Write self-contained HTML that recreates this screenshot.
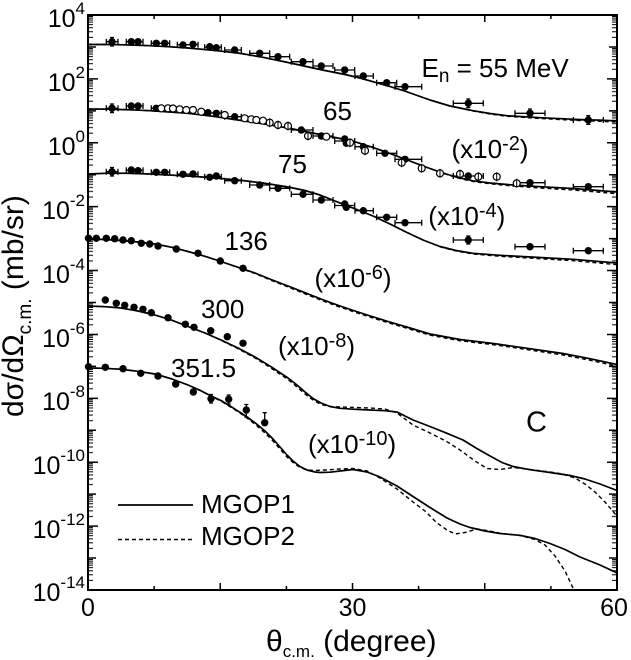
<!DOCTYPE html>
<html><head><meta charset="utf-8"><style>
html,body{margin:0;padding:0;background:#fff;}
svg{display:block;}
text{font-family:"Liberation Sans",Arial,sans-serif;fill:#000;}
</style></head><body>
<svg width="631" height="660" viewBox="0 0 631 660" xmlns="http://www.w3.org/2000/svg">
<defs>
<pattern id="mt" patternUnits="userSpaceOnUse" x="0" y="15" width="631" height="31.944">
<path d="M88 1.46h5M88 3.1h5M88 4.94h5M88 7.08h5M88 9.62h5M88 12.71h5M88 16.71h5M88 22.33h5M612 1.46h5M612 3.1h5M612 4.94h5M612 7.08h5M612 9.62h5M612 12.71h5M612 16.71h5M612 22.33h5" stroke="#000" stroke-width="1"/>
</pattern>
<clipPath id="cp"><rect x="88" y="15" width="529" height="575"/></clipPath>
</defs>
<rect x="0" y="0" width="631" height="660" fill="#fff"/>
<!-- minor ticks -->
<rect x="0" y="15" width="631" height="575" fill="url(#mt)"/>
<!-- decade ticks -->
<path stroke="#000" stroke-width="1.5" fill="none" d="
M88 15h10M88 46.94h8M88 78.89h10M88 110.83h8M88 142.78h10M88 174.72h8M88 206.67h10M88 238.61h8M88 270.56h10M88 302.5h8M88 334.44h10M88 366.39h8M88 398.33h10M88 430.28h8M88 462.22h10M88 494.17h8M88 526.11h10M88 558.06h8
M617 15h-10M617 46.94h-8M617 78.89h-10M617 110.83h-8M617 142.78h-10M617 174.72h-8M617 206.67h-10M617 238.61h-8M617 270.56h-10M617 302.5h-8M617 334.44h-10M617 366.39h-8M617 398.33h-10M617 430.28h-8M617 462.22h-10M617 494.17h-8M617 526.11h-10M617 558.06h-8
M154.1 590v-4M220.25 590v-7M286.4 590v-4M352.5 590v-7M418.6 590v-4M484.75 590v-7M550.9 590v-4
M154.1 15v4M220.25 15v7M286.4 15v4M352.5 15v7M418.6 15v4M484.75 15v7M550.9 15v4"/>
<rect x="88" y="15" width="529" height="575" fill="none" stroke="#000" stroke-width="2"/>

<!-- y tick labels -->
<g font-size="25" text-anchor="end">
<text x="85" y="27">10<tspan font-size="17" dy="-13">4</tspan></text>
<text x="85" y="91">10<tspan font-size="17" dy="-13">2</tspan></text>
<text x="85" y="155">10<tspan font-size="17" dy="-13">0</tspan></text>
<text x="85" y="219">10<tspan font-size="17" dy="-13">-2</tspan></text>
<text x="85" y="283">10<tspan font-size="17" dy="-13">-4</tspan></text>
<text x="85" y="347">10<tspan font-size="17" dy="-13">-6</tspan></text>
<text x="85" y="410">10<tspan font-size="17" dy="-13">-8</tspan></text>
<text x="85" y="474">10<tspan font-size="17" dy="-13">-10</tspan></text>
<text x="85" y="538">10<tspan font-size="17" dy="-13">-12</tspan></text>
<text x="85" y="601">10<tspan font-size="17" dy="-13">-14</tspan></text>
</g>
<!-- x tick labels -->
<g font-size="25" text-anchor="middle">
<text x="88" y="616">0</text>
<text x="352.5" y="616">30</text>
<text x="614" y="616">60</text>
</g>
<!-- axis titles -->
<text x="266" y="651" font-size="30">θ<tspan font-size="17" dy="6">c.m.</tspan><tspan dy="-6"> (degree)</tspan></text>
<text transform="translate(23,417) rotate(-90)" font-size="30">dσ/dΩ<tspan font-size="19" dy="8">c.m.</tspan><tspan dy="-8"> (mb/sr)</tspan></text>

<!-- curves -->
<g clip-path="url(#cp)" fill="none" stroke="#000" stroke-linejoin="round">
<g stroke-width="1.4" stroke-dasharray="4 3">
<polyline points="88,44.5 110,44.5 130,45 150,45.7 170,46.8 188,48 213,50.3 238,53 263,57.3 288,62.5 320,69.5 345,74.5 358,77.5 373,81.7 390,86.5 406,91.5 430,100 450,106 473,111 490,114 507,116.3 540,118.5 575,120.3 617,122"/>
<polyline points="88,109 110,109.2 130,109.8 150,110.7 188,113.3 213,116.3 238,120 263,123.8 288,128 320,134.5 345,139.5 358,142.7 373,147.5 390,153.5 406,159.5 423,166 440,172.3 456,177.5 473,181.5 490,183.8 513,186 540,188 573,190 617,193.7"/>
<polyline points="88,174 105,173.3 125,173.2 150,174 188,176 213,177.8 238,180 263,183 288,187 305,190.5 320,195 340,203 358,210 373,216 390,224 406,232 423,240 440,246.8 456,251 473,254 500,256.3 540,258.7 573,260.7 617,264.7"/>
<polyline points="88,239 105,239.5 121,240.5 138,242 155,244 172,247.3 188,251.5 205,256.3 221,261.5 238,267.5 255,273.5 271,280.2 288,287 305,293.8 321,300.2 338,306.5 355,312.2 372,317.7 388,322.7 410,329.2 430,335.2 460,340.7 497,345.2 530,350 563,355 590,360.2 617,366.3"/>
<polyline points="88,306 105,306.7 121,308 138,311 155,315 172,320.3 188,326.5 205,333 221,340.3 238,348.7 255,358 271,368 288,379.5 297,387 305,394 313,400 321,404.5 330,406.5 340,407 355,407.5 370,408 385,409 397,413 413,425 430,433 447,441.7 460,450 475,461 487,468.5 500,469.5 513,467.5 530,469.5 550,472 563,474 575,478 585,484 595,492 605,502 617,516"/>
<polyline points="88,368 105,368.3 121,369.3 138,371.3 155,374 172,379 188,385 200,390.5 211,396.3 221,401 230,406.7 240,413 247,418 256,425 265,433 273,441 280,449 287,457 293,462.5 300,467.5 307,470 315,470.5 325,470 340,469 353,468.5 367,471 380,478 397,489 413,502 425,511 437,523 447,530 455,534 465,532.5 477,529 490,531 500,533.3 520,535.5 535,539.5 545,545 555,556 565,571 573,588 577,598"/>
</g>
<g stroke-width="1.7">
<polyline points="88,44.5 110,44.5 130,45 150,45.7 170,46.8 188,48 213,50.3 238,53 263,57.3 288,62.5 320,69.5 345,74.5 358,77.5 373,81.7 390,86.5 406,91.5 430,100 450,106 473,110.7 490,113.5 507,115.7 540,117.7 575,119.3 617,120.8"/>
<polyline points="88,109 110,109.2 130,109.8 150,110.7 188,113.3 213,116.3 238,120 263,123.8 288,128 320,134.5 345,139.5 358,142.7 373,147.5 390,153.5 406,159.5 423,166 440,172 456,177 473,180.8 490,183 513,185 540,186.7 573,188.5 617,192"/>
<polyline points="88,174 105,173.3 125,173.2 150,174 188,176 213,177.8 238,180 263,183 288,187 305,190.5 320,195 340,203 358,210 373,216 390,224 406,232 423,240 440,246.5 456,250.5 473,253.3 500,255.3 540,257.5 573,259.3 617,263"/>
<polyline points="88,239 105,239.5 121,240.5 138,242 155,244 172,247.3 188,251.5 205,256.3 221,261.5 238,267.3 255,273 271,279.5 288,286 305,292.7 321,299 338,305.3 355,311 372,316.5 388,321.5 410,328 430,334 460,339.5 497,344 530,348.7 563,353.5 590,358.7 617,364.5"/>
<polyline points="88,306 105,306.7 121,308 138,311 155,315 172,320.3 188,326.5 205,333 221,340 238,348 255,357 271,366.7 288,378 297,385 305,392 313,398.5 321,403 330,406.5 340,408.3 355,409.3 370,410 385,410.7 397,412 413,420 430,426.5 447,433.3 463,440 476,448 490,456 502,462.5 513,466.5 530,469.7 550,472.5 570,475.5 585,479 600,484 617,490.5"/>
<polyline points="88,368 105,368.3 121,369.3 138,371.3 155,374 172,379 188,385 200,390.3 211,396 221,400.5 230,406 240,412.3 247,417 256,423.5 265,431 273,439 280,447 287,455 293,461 300,466.5 307,470 315,472 320,472.5 330,472.2 340,471 353,469.5 367,472 380,477 397,486 413,496.5 430,507.5 447,518 460,524 470,527.5 485,531 500,533.5 520,535.3 535,538.5 550,543.5 565,549.5 580,557 600,565 617,573"/>
</g>
</g>

<!-- error bars -->
<path fill="none" stroke="#000" stroke-width="1.3" d="
M106.3 41.7H118M106.3 38.7v6M118 38.7v6
M126.3 41.7H143M126.3 38.7v6M143 38.7v6
M151.3 43.3H169.7M151.3 40.3v6M169.7 40.3v6
M177.3 44.7H198M177.3 41.7v6M198 41.7v6
M204.7 47.2H221.3M204.7 44.2v6M221.3 44.2v6
M224.7 50H241.3M224.7 47v6M241.3 47v6
M249.7 53.3H269.7M249.7 50.3v6M269.7 50.3v6
M269.7 56.7H289.7M269.7 53.7v6M289.7 53.7v6
M291.3 61.7H313M291.3 58.7v6M313 58.7v6
M313 66H333M313 63v6M333 63v6
M334.7 70H354.7M334.7 67v6M354.7 67v6
M355 76H373.3M355 73v6M373.3 73v6
M376.7 82.7H396.7M376.7 79.7v6M396.7 79.7v6
M395 86.7H421.7M395 83.7v6M421.7 83.7v6
M453.3 103.3H483.3M453.3 100.3v6M483.3 100.3v6
M515 113.3H545M515 110.3v6M545 110.3v6
M573.3 120H603.3M573.3 117v6M603.3 117v6
M112 37.5V46M110 37.5h4M110 46h4
M468.3 99V107.6M466.3 99h4M466.3 107.6h4
M530 109V117.6M528 109h4M528 117.6h4
M588.3 115.7V124.3M586.3 115.7h4M586.3 124.3h4

M106.3 108.3H118M106.3 105.3v6M118 105.3v6
M126.3 106H143M126.3 103v6M143 103v6
M151.3 108.3H169.7M151.3 105.3v6M169.7 105.3v6
M204.7 113H221.3M204.7 110v6M221.3 110v6
M224.7 116.7H241.3M224.7 113.7v6M241.3 113.7v6
M291.3 130H313M291.3 127v6M313 127v6
M313 136H333M313 133v6M333 133v6
M334.7 141H354.7M334.7 138v6M354.7 138v6
M355 146.7H373.3M355 143.7v6M373.3 143.7v6
M376.7 153.3H396.7M376.7 150.3v6M396.7 150.3v6
M395 159.3H421.7M395 156.3v6M421.7 156.3v6
M453.3 176H483.3M453.3 173v6M483.3 173v6
M515 182.7H545M515 179.7v6M545 179.7v6
M573.3 186.7H603.3M573.3 183.7v6M603.3 183.7v6
M112 104V112.6M110 104h4M110 112.6h4

M106.3 171.7H118M106.3 168.7v6M118 168.7v6
M126.3 170.3H143M126.3 167.3v6M143 167.3v6
M151.3 172.3H169.7M151.3 169.3v6M169.7 169.3v6
M177.3 174.2H198M177.3 171.2v6M198 171.2v6
M204.7 176.7H221.3M204.7 173.7v6M221.3 173.7v6
M224.7 180.7H241.3M224.7 177.7v6M241.3 177.7v6
M249.7 185H269.7M249.7 182v6M269.7 182v6
M269.7 188.3H289.7M269.7 185.3v6M289.7 185.3v6
M291.3 194.3H313M291.3 191.3v6M313 191.3v6
M313 200H333M313 197v6M333 197v6
M334.7 205.5H354.7M334.7 202.5v6M354.7 202.5v6
M355 210.7H373.3M355 207.7v6M373.3 207.7v6
M376.7 217.3H396.7M376.7 214.3v6M396.7 214.3v6
M395 222.7H421.7M395 219.7v6M421.7 219.7v6
M453.3 240H483.3M453.3 237v6M483.3 237v6
M515 246.7H545M515 243.7v6M545 243.7v6
M573.3 250.7H603.3M573.3 247.7v6M603.3 247.7v6
M112 167.5V176M110 167.5h4M110 176h4
M468.3 236V244M466.3 236h4M466.3 244h4

M211 394.5V403M209 394.5h4M209 403h4
M228.7 395V404M226.7 395h4M226.7 404h4
M246.3 404.5V417M244.3 404.5h4M244.3 417h4
M264.7 412.7V424M262.7 412.7h4
"/>

<!-- filled markers -->
<g fill="#000">
<circle cx="112" cy="41.7" r="3.7"/><circle cx="131.3" cy="41.7" r="3.7"/><circle cx="138" cy="41.7" r="3.7"/><circle cx="156.3" cy="43.3" r="3.7"/><circle cx="164.7" cy="43.3" r="3.7"/><circle cx="183" cy="45" r="3.7"/><circle cx="193" cy="44.3" r="3.7"/><circle cx="209.7" cy="46.7" r="3.7"/><circle cx="216.3" cy="47.7" r="3.7"/><circle cx="234.7" cy="50" r="3.7"/><circle cx="259.7" cy="53.3" r="3.7"/><circle cx="278" cy="56.7" r="3.7"/><circle cx="303" cy="61.7" r="3.7"/><circle cx="321.3" cy="66" r="3.7"/><circle cx="344.7" cy="70" r="3.7"/><circle cx="363.3" cy="76" r="3.7"/><circle cx="386.7" cy="82.7" r="3.7"/><circle cx="405" cy="86.7" r="3.7"/><circle cx="468.3" cy="103.3" r="3.7"/><circle cx="530" cy="113.3" r="3.7"/><circle cx="588.3" cy="120" r="3.7"/>

<circle cx="112" cy="108.3" r="3.7"/><circle cx="131.3" cy="106" r="3.7"/><circle cx="138" cy="106" r="3.7"/><circle cx="156.3" cy="108.3" r="3.7"/><circle cx="208" cy="112.7" r="3.7"/><circle cx="216.3" cy="113.3" r="3.7"/><circle cx="234.7" cy="116.7" r="3.7"/><circle cx="301.3" cy="130" r="3.7"/><circle cx="321.3" cy="136" r="3.7"/><circle cx="344.7" cy="139" r="3.7"/><circle cx="346.3" cy="143.3" r="3.7"/><circle cx="363.3" cy="146.7" r="3.7"/><circle cx="385" cy="153.3" r="3.7"/><circle cx="405" cy="159.3" r="3.7"/><circle cx="468.3" cy="176" r="3.7"/><circle cx="530" cy="182.7" r="3.7"/><circle cx="588.3" cy="186.7" r="3.7"/>

<circle cx="112" cy="171.7" r="3.7"/><circle cx="131.3" cy="170" r="3.7"/><circle cx="138" cy="170.7" r="3.7"/><circle cx="156.3" cy="172.3" r="3.7"/><circle cx="164.7" cy="172.3" r="3.7"/><circle cx="183" cy="174.3" r="3.7"/><circle cx="193" cy="174" r="3.7"/><circle cx="209.7" cy="177.3" r="3.7"/><circle cx="216.3" cy="176" r="3.7"/><circle cx="234.7" cy="180.7" r="3.7"/><circle cx="259.7" cy="185" r="3.7"/><circle cx="278" cy="188.3" r="3.7"/><circle cx="303" cy="194.3" r="3.7"/><circle cx="321.3" cy="200" r="3.7"/><circle cx="344.7" cy="204" r="3.7"/><circle cx="346.3" cy="207.3" r="3.7"/><circle cx="363.3" cy="210.7" r="3.7"/><circle cx="386.7" cy="217.3" r="3.7"/><circle cx="405" cy="222.7" r="3.7"/><circle cx="468.3" cy="240" r="3.7"/><circle cx="530" cy="246.7" r="3.7"/><circle cx="588.3" cy="250.7" r="3.7"/>

<circle cx="88.5" cy="238.3" r="3.7"/><circle cx="96.3" cy="238.3" r="3.7"/><circle cx="106.3" cy="238.3" r="3.7"/><circle cx="114.7" cy="238.7" r="3.7"/><circle cx="123" cy="240" r="3.7"/><circle cx="131.3" cy="240.7" r="3.7"/><circle cx="141.3" cy="243.3" r="3.7"/><circle cx="149.7" cy="244" r="3.7"/><circle cx="158" cy="246" r="3.7"/><circle cx="176.3" cy="249" r="3.7"/><circle cx="198" cy="253.3" r="3.7"/><circle cx="220.3" cy="261" r="3.7"/><circle cx="243" cy="268.3" r="3.7"/>

<circle cx="105.3" cy="300" r="3.7"/><circle cx="116.3" cy="303.3" r="3.7"/><circle cx="124.7" cy="305.3" r="3.7"/><circle cx="134" cy="307.3" r="3.7"/><circle cx="143" cy="309.3" r="3.7"/><circle cx="151.3" cy="312.7" r="3.7"/><circle cx="168" cy="317.7" r="3.7"/><circle cx="185.3" cy="324.3" r="3.7"/><circle cx="194" cy="327.3" r="3.7"/><circle cx="210.7" cy="330.7" r="3.7"/><circle cx="227.3" cy="336.7" r="3.7"/><circle cx="243" cy="343.3" r="3.7"/>

<circle cx="88.5" cy="366.7" r="3.7"/><circle cx="105.3" cy="367.3" r="3.7"/><circle cx="123" cy="368.7" r="3.7"/><circle cx="140.7" cy="373.3" r="3.7"/><circle cx="158" cy="376" r="3.7"/><circle cx="175.7" cy="384" r="3.7"/><circle cx="193.3" cy="392" r="3.7"/><circle cx="211" cy="398.7" r="3.7"/><circle cx="228.7" cy="399.3" r="3.7"/><circle cx="246.3" cy="410" r="3.7"/><circle cx="264.7" cy="422.7" r="3.7"/>
</g>

<!-- open markers (65 MeV) -->
<g fill="#fff" stroke="#000" stroke-width="1.2">
<circle cx="161.3" cy="108.3" r="3.5"/><circle cx="168" cy="108.3" r="3.5"/><circle cx="173" cy="108.5" r="3.5"/><circle cx="179.7" cy="109.3" r="3.5"/><circle cx="186.3" cy="110" r="3.5"/><circle cx="193" cy="110" r="3.5"/><circle cx="201.3" cy="111.7" r="3.5"/><circle cx="224.7" cy="115" r="3.5"/><circle cx="244.7" cy="118.3" r="3.5"/><circle cx="251.3" cy="119.3" r="3.5"/><circle cx="256.3" cy="120" r="3.5"/><circle cx="263" cy="120.7" r="3.5"/><circle cx="269.7" cy="122.7" r="3.5"/><circle cx="278" cy="125" r="3.5"/><circle cx="288" cy="126" r="3.5"/><circle cx="308" cy="136" r="3.5"/><circle cx="326.3" cy="136.7" r="3.5"/><circle cx="350" cy="142.7" r="3.5"/><circle cx="365" cy="150.7" r="3.5"/><circle cx="401.7" cy="162.7" r="3.5"/><circle cx="421.7" cy="168.3" r="3.5"/><circle cx="440" cy="173.3" r="3.5"/><circle cx="460" cy="174" r="3.5"/><circle cx="478.3" cy="176.7" r="3.5"/><circle cx="496.7" cy="176.7" r="3.5"/><circle cx="516.7" cy="183.3" r="3.5"/>
</g>
<path fill="none" stroke="#000" stroke-width="1" d="M288 121.5v9M308 131.5v9M350 138.2v9M365 146.2v9M401.7 158.2v9M421.7 163.8v9M440 168.8v9M460 169.5v9M478.3 172.2v9M496.7 172.2v9M516.7 178.8v9M269.7 118.2v9M278 120.5v9"/>

<!-- labels -->
<g font-size="26">
<text x="421.5" y="77">E<tspan font-size="19" dy="5">n</tspan><tspan dy="-5"> = 55 MeV</tspan></text>
<text x="323" y="120">65</text>
<text x="278" y="173">75</text>
<text x="224.5" y="250">136</text>
<text x="201" y="318">300</text>
<text x="171" y="377">351.5</text>
<text x="451.5" y="158">(x10<tspan font-size="20" dy="-8">-2</tspan><tspan dy="8">)</tspan></text>
<text x="428.3" y="225">(x10<tspan font-size="20" dy="-8">-4</tspan><tspan dy="8">)</tspan></text>
<text x="314.5" y="287">(x10<tspan font-size="20" dy="-8">-6</tspan><tspan dy="8">)</tspan></text>
<text x="278" y="355">(x10<tspan font-size="20" dy="-8">-8</tspan><tspan dy="8">)</tspan></text>
<text x="308" y="453">(x10<tspan font-size="20" dy="-8">-10</tspan><tspan dy="8">)</tspan></text>
<text x="526" y="431.5" font-size="29">C</text>
<text x="201" y="513">MGOP1</text>
<text x="201" y="545">MGOP2</text>
</g>
<path d="M118 505H193" stroke="#000" stroke-width="1.7"/>
<path d="M118 539.5H193" stroke="#000" stroke-width="1.4" stroke-dasharray="4 3"/>
</svg>
</body></html>
